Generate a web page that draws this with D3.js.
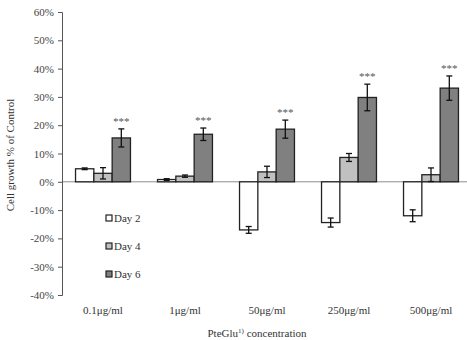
<!DOCTYPE html>
<html>
<head>
<meta charset="utf-8">
<script src="https://d3js.org/d3.v7.min.js"></script>
<style>
  body { margin: 0; background: #fff; }
  text { font-family: "Liberation Serif", "DejaVu Serif", serif; }
</style>
</head>
<body>
<div id="chart"></div>
<script>
const categories = ["0.1\u03bcg/ml", "1\u03bcg/ml", "50\u03bcg/ml", "250\u03bcg/ml", "500\u03bcg/ml"];
const seriesNames = ["Day 2", "Day 4", "Day 6"];
const day2 = [4.6, 0.8, -17.0, -14.4, -12.0];
const day4 = [3.0, 2.0, 3.5, 8.6, 2.5];
const day6 = [15.5, 16.8, 18.6, 29.8, 33.1];
const day2Err = [0.3, 0.3, 1.2, 1.6, 2.1];
const day4Err = [2.0, 0.4, 2.0, 1.4, 2.4];
const day6Err = [3.2, 2.2, 3.2, 4.7, 4.3];
const yTicks = [-40, -30, -20, -10, 0, 10, 20, 30, 40, 50, 60];
const colors = ["#ffffff", "#c0c0c0", "#808080"];

const width = 467, height = 340;
const margin = { top: 12, right: 0, bottom: 45, left: 62 };

const svg = d3.select("#chart").append("svg")
    .attr("width", width)
    .attr("height", height);

const x = d3.scaleBand()
    .domain(categories)
    .range([margin.left, 472])
    .paddingInner(0.33)
    .paddingOuter(0.165);

const x1 = d3.scaleBand()
    .domain(seriesNames)
    .range([0, x.bandwidth()]);

const y = d3.scaleLinear()
    .domain([-40, 60])
    .range([295, 12]);

// zero line
svg.append("line")
    .attr("x1", margin.left).attr("x2", width)
    .attr("y1", y(0)).attr("y2", y(0))
    .attr("stroke", "#8c8c8c").attr("stroke-width", 1);

// y axis
const yAxis = svg.append("g")
    .attr("transform", `translate(${margin.left},0)`)
    .call(d3.axisLeft(y).tickValues(yTicks).tickSize(4).tickFormat(d => d + "%"));
yAxis.select(".domain").attr("stroke", "#555");
yAxis.selectAll(".tick line").attr("stroke", "#555");
yAxis.selectAll(".tick text")
    .attr("x", -8)
    .attr("fill", "#444")
    .style("font-size", "11px")
    .style("font-family", "Liberation Serif, serif");

const allSeries = [day2, day4, day6];
const allErr = [day2Err, day4Err, day6Err];

const rows = [];
categories.forEach((c, i) => {
    seriesNames.forEach((s, j) => {
        rows.push({ cat: c, series: s, idx: j, value: allSeries[j][i], err: allErr[j][i] });
    });
});

const groups = svg.append("g");

groups.selectAll("rect")
    .data(rows)
    .enter()
    .append("rect")
    .attr("x", d => x(d.cat) + x1(d.series))
    .attr("y", d => y(Math.max(0, d.value)))
    .attr("width", x1.bandwidth())
    .attr("height", d => Math.abs(y(d.value) - y(0)))
    .attr("fill", d => colors[d.idx])
    .attr("stroke", "#222")
    .attr("stroke-width", 1.3);

// error bars
const eb = groups.selectAll("g.err")
    .data(rows)
    .enter()
    .append("g")
    .attr("class", "err")
    .attr("stroke", "#111")
    .attr("stroke-width", 1.3);

eb.append("line")
    .attr("x1", d => x(d.cat) + x1(d.series) + x1.bandwidth() / 2)
    .attr("x2", d => x(d.cat) + x1(d.series) + x1.bandwidth() / 2)
    .attr("y1", d => y(d.value + d.err))
    .attr("y2", d => y(d.value - d.err));
eb.append("line")
    .attr("x1", d => x(d.cat) + x1(d.series) + x1.bandwidth() / 2 - 3)
    .attr("x2", d => x(d.cat) + x1(d.series) + x1.bandwidth() / 2 + 3)
    .attr("y1", d => y(d.value + d.err))
    .attr("y2", d => y(d.value + d.err));
eb.append("line")
    .attr("x1", d => x(d.cat) + x1(d.series) + x1.bandwidth() / 2 - 3)
    .attr("x2", d => x(d.cat) + x1(d.series) + x1.bandwidth() / 2 + 3)
    .attr("y1", d => y(d.value - d.err))
    .attr("y2", d => y(d.value - d.err));

// significance stars on Day 6
svg.selectAll("text.star")
    .data(categories)
    .enter()
    .append("text")
    .attr("class", "star")
    .attr("x", (c) => x(c) + x1("Day 6") + x1.bandwidth() / 2)
    .attr("y", (c, i) => y(day6[i] + day6Err[i]) - 4)
    .attr("text-anchor", "middle")
    .attr("fill", "#555")
    .style("font-size", "11px")
    .text("***");

// x labels
svg.selectAll("text.xlab")
    .data(categories)
    .enter()
    .append("text")
    .attr("class", "xlab")
    .attr("x", c => x(c) + x.bandwidth() / 2)
    .attr("y", 314)
    .attr("text-anchor", "middle")
    .attr("fill", "#333")
    .style("font-size", "11px")
    .text(c => c);

// x title
const xt = svg.append("text")
    .attr("x", 257)
    .attr("y", 337)
    .attr("text-anchor", "middle")
    .attr("fill", "#333")
    .style("font-size", "11px");
xt.append("tspan").text("PteGlu");
xt.append("tspan").attr("dy", -4).style("font-size", "7px").text("1)");
xt.append("tspan").attr("dy", 4).text(" concentration");

// y title
svg.append("text")
    .attr("transform", "translate(14,155) rotate(-90)")
    .attr("text-anchor", "middle")
    .attr("fill", "#333")
    .style("font-size", "11px")
    .text("Cell growth % of Control");

// legend
const legend = svg.selectAll("g.legend")
    .data(seriesNames)
    .enter()
    .append("g")
    .attr("class", "legend")
    .attr("transform", (d, i) => `translate(106,${215 + i * 28})`);
legend.append("rect")
    .attr("width", 6).attr("height", 6)
    .attr("fill", (d, i) => colors[i])
    .attr("stroke", "#222")
    .attr("stroke-width", 1.2);
legend.append("text")
    .attr("x", 8)
    .attr("y", 7)
    .attr("fill", "#333")
    .style("font-size", "11px")
    .text(d => d);
</script>
</body>
</html>
